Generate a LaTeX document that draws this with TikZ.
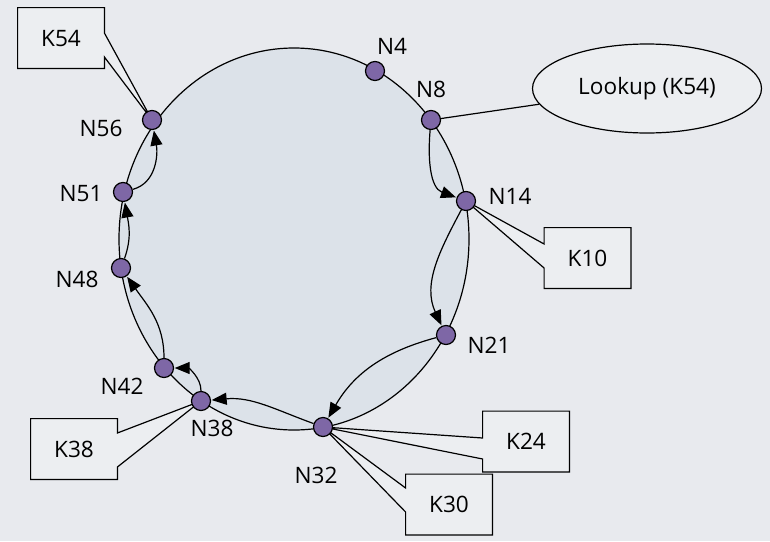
\documentclass[tikz,border=0pt]{standalone}
\usepackage{fontspec}
\setmainfont{Open Sans}
\usetikzlibrary{arrows.meta,calc,shapes.geometric,backgrounds}
\definecolor{pagebg}{RGB}{232,234,238}
\definecolor{ringbg}{RGB}{220,226,233}
\definecolor{keybg}{RGB}{236,238,241}
\definecolor{peerfill}{RGB}{126,103,166}
\tikzset{
	peer/.style={
		circle,
		draw=black,
		fill=peerfill,
		line width=0.6pt,
		minimum size=9.5pt,
		inner sep=0pt},
	peerlabel/.style={
		inner sep=0pt,
		font=\fontsize{11.3}{13}\selectfont},
	keytext/.style={
		minimum width=43pt,
		minimum height=30pt,
		inner sep=0pt,
		font=\fontsize{11.3}{13}\selectfont},
	keybox/.style={
		draw=black,
		fill=keybg,
		line width=0.6pt},
	lookup/.style={
		ellipse,
		draw=black,
		fill=keybg,
		line width=0.6pt,
		minimum width=114.5pt,
		minimum height=44.5pt,
		inner sep=0pt,
		font=\fontsize{11.3}{13}\selectfont},
	finger/.style={
		-{Triangle[length=7.5pt,width=6pt]},
		line width=0.6pt,
		shorten >=0.3pt}
}

\begin{document}
\begin{tikzpicture}[x=0.5pt, y=0.5pt]
    \useasboundingbox (0,0) rectangle (770,-541);

    % peers on the ring
    \node[peer] (N4)  at (375,-71)  {};
    \node[peer] (N8)  at (431,-120) {};
    \node[peer] (N14) at (466,-201) {};
    \node[peer] (N21) at (446,-335) {};
    \node[peer] (N32) at (323,-427) {};
    \node[peer] (N38) at (201,-401) {};
    \node[peer] (N42) at (164,-368) {};
    \node[peer] (N48) at (121,-268) {};
    \node[peer] (N51) at (123,-192) {};
    \node[peer] (N56) at (152,-120) {};

    \node[peerlabel] (l4)  at (392,-46)  {N4};
    \node[peerlabel] (l8)  at (431,-89)  {N8};
    \node[peerlabel] (l14) at (510,-196) {N14};
    \node[peerlabel] (l21) at (489,-345) {N21};
    \node[peerlabel] (l32) at (316,-475) {N32};
    \node[peerlabel] (l38) at (212,-428) {N38};
    \node[peerlabel] (l42) at (122,-386) {N42};
    \node[peerlabel] (l48) at (77,-279)  {N48};
    \node[peerlabel] (l51) at (81,-194)  {N51};
    \node[peerlabel] (l56) at (101,-128) {N56};

    % keys
    \node[keytext] (k54) at (61,-38)      {K54};
    \node[keytext] (k10) at (587.5,-258)  {K10};
    \node[keytext] (k38) at (74,-449)     {K38};
    \node[keytext] (k24) at (526,-441.5)  {K24};
    \node[keytext] (k30) at (449,-504.5)  {K30};

    \node[lookup] (look) at (647,-88.5) {Lookup (K54)};
    \draw[line width=0.6pt] (N8) -- (look);

    % finger hops
    \draw[finger] (N8)  to[out=-95,in=160] (N14);
    \draw[finger] (N14) to[out=-118,in=115] (N21);
    \draw[finger] (N21) to[out=195,in=60] (N32);
    \draw[finger] (N32) to[out=160,in=5] (N38);
    \draw[finger] (N38) to[out=90,in=0] (N42);
    \draw[finger] (N42) to[out=90,in=-55] (N48);
    \draw[finger] (N48) to[out=70,in=-80] (N51);
    \draw[finger] (N51) to[out=15,in=-80] (N56);

    \begin{scope}[on background layer]
    \fill[pagebg] (0,0) rectangle (770,-541);
    \filldraw[fill=ringbg, line width=0.6pt] (294,-239) ellipse [x radius=175, y radius=191];
    \filldraw[keybox] (k54.north west) -- (k54.north east) -- ($(k54.east)+(0,5)$)
        -- (N56.center) -- ($(k54.east)+(0,-19)$) -- (k54.south east) -- (k54.south west) -- cycle;
    \filldraw[keybox] (k38.north west) -- (k38.north east) -- ($(k38.east)+(0,16)$)
        -- (N38.center) -- ($(k38.east)+(0,-18)$) -- (k38.south east) -- (k38.south west) -- cycle;
    \filldraw[keybox] (k10.north west) -- (k10.north east) -- (k10.south east) -- (k10.south west)
        -- ($(k10.west)+(0,-10)$) -- (N14.center) -- ($(k10.west)+(0,14)$) -- cycle;
    \filldraw[keybox] (k24.north west) -- (k24.north east) -- (k24.south east) -- (k24.south west)
        -- ($(k24.west)+(0,-17.5)$) -- (N32.center) -- ($(k24.west)+(0,3.5)$) -- cycle;
    \filldraw[keybox] (k30.north west) -- (k30.north east) -- (k30.south east) -- (k30.south west)
        -- ($(k30.west)+(0,-7.5)$) -- (N32.center) -- ($(k30.west)+(0,16.5)$) -- cycle;
    \end{scope}
\end{tikzpicture}
\end{document}
